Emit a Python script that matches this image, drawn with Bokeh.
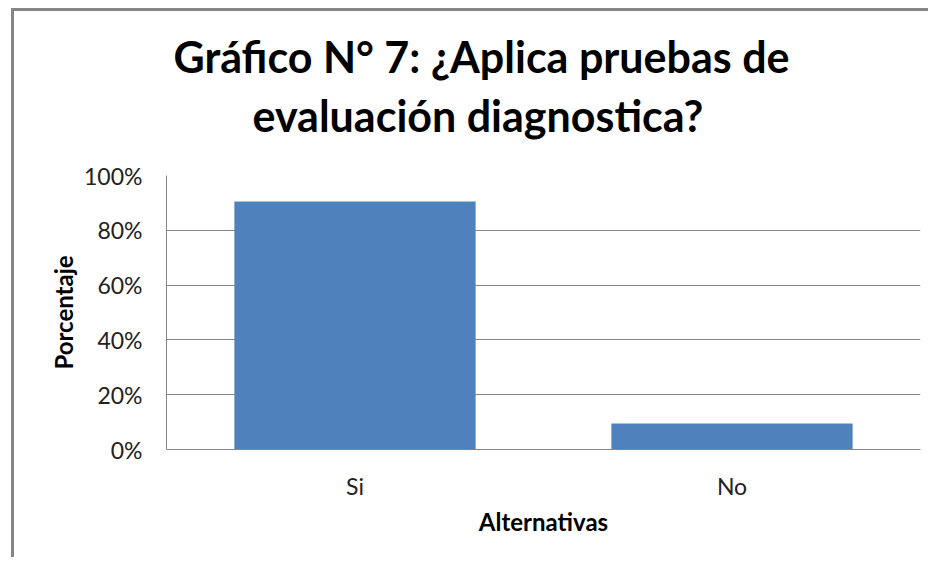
from bokeh.plotting import figure
from bokeh.models import Title, FixedTicker, NumeralTickFormatter, Range1d
from bokeh.embed import file_html
from bokeh.resources import INLINE

# Data
categorias = ["Si", "No"]
porcentajes = [0.905, 0.095]
y_ticks = [0, 0.2, 0.4, 0.6, 0.8, 1.0]
titulo_1 = "Gráfico N° 7: ¿Aplica pruebas de"
titulo_2 = "evaluación diagnostica?"

FONT = "Lato"
GRAY = "#868686"

p = figure(
    x_range=categorias,
    y_range=Range1d(0, 1),
    width=917, height=549,
    min_border_left=152, min_border_right=11,
    min_border_top=164, min_border_bottom=111,
    output_backend="svg", toolbar_location=None,
)
p.styles = {
    "border-left": f"3px solid {GRAY}",
    "border-top": f"3px solid {GRAY}",
    "margin-left": "11px",
    "margin-top": "8px",
}

p.vbar(x=categorias, top=porcentajes, width=0.64, color="#4F81BD", line_color=None)

p.outline_line_color = None
p.background_fill_color = "white"
p.border_fill_color = "white"

p.xgrid.grid_line_color = None
p.ygrid.grid_line_color = GRAY
p.ygrid.grid_line_width = 1

p.yaxis.ticker = FixedTicker(ticks=y_ticks)
p.yaxis.formatter = NumeralTickFormatter(format="0%")
p.yaxis.axis_line_color = GRAY
p.yaxis.major_tick_line_color = None
p.yaxis.minor_tick_line_color = None
p.yaxis.major_tick_out = 0
p.yaxis.major_tick_in = 0
p.yaxis.major_label_standoff = 24
p.yaxis.major_label_text_font = FONT
p.yaxis.major_label_text_font_size = "23px"
p.yaxis.major_label_text_color = "#222222"
p.yaxis.axis_label = "Porcentaje"
p.yaxis.axis_label_text_font = FONT
p.yaxis.axis_label_text_font_style = "bold"
p.yaxis.axis_label_text_font_size = "24px"
p.yaxis.axis_label_text_color = "black"
p.yaxis.axis_label_standoff = 3

p.xaxis.axis_line_color = GRAY
p.xaxis.major_tick_line_color = None
p.xaxis.minor_tick_line_color = None
p.xaxis.major_tick_out = 0
p.xaxis.major_tick_in = 0
p.xaxis.major_label_standoff = 22
p.xaxis.major_label_text_font = FONT
p.xaxis.major_label_text_font_size = "23px"
p.xaxis.major_label_text_color = "#222222"
p.xaxis.axis_label = "Alternativas"
p.xaxis.axis_label_text_font = FONT
p.xaxis.axis_label_text_font_style = "bold"
p.xaxis.axis_label_text_font_size = "24px"
p.xaxis.axis_label_text_color = "black"
p.xaxis.axis_label_standoff = 4

# two-line title: the later-added title sits farther from the plot
for txt, off, so in [(titulo_2, 86, 69), (titulo_1, 7, -57)]:
    p.add_layout(Title(
        text=txt, align="left", offset=off, standoff=so,
        text_font=FONT, text_font_style="bold", text_font_size="43px",
        text_color="black",
    ), "above")

open("out.html", "w").write(file_html(p, INLINE))
